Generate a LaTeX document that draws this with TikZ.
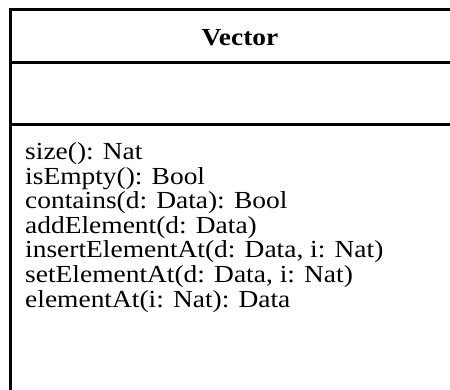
\documentclass[tikz,border=0pt]{standalone}
\usepackage{fontspec}
\setmainfont{Liberation Serif}
\usetikzlibrary{positioning}
\tikzset{
  frame/.style={draw=black, line width=2.6pt},
  sep/.style={draw=black, line width=2.6pt},
  classname/.style={font=\fontsize{24.5}{24.5}\selectfont\bfseries, inner sep=0pt, anchor=base, xscale=1.12},
  oper/.style={font=\fontsize{24.5}{24.5}\selectfont, inner sep=0pt, anchor=base west, xscale=1.12}
}
\begin{document}
\begin{tikzpicture}[x=1pt,y=1pt]
\clip (0,0) rectangle (450,-390);
% class box, it runs past the right and bottom edge
\coordinate (nw) at (10.3,-9.7);
\coordinate (se) at (470,-430);
\draw[frame] (nw) rectangle (se);
% compartment separators
\coordinate (attr) at (10.3,-62.3);
\coordinate (meth) at (10.3,-124.5);
\draw[sep] (attr) -- (attr -| se);
\draw[sep] (meth) -- (meth -| se);
% name
\node[classname] (name) at (240,-45.5) {Vector};
% operations
\foreach \op [count=\i] in {size(): Nat, isEmpty(): Bool, contains(d: Data): Bool,
  addElement(d: Data), {insertElementAt(d: Data, i: Nat)}, {setElementAt(d: Data, i: Nat)},
  elementAt(i: Nat): Data}
  \node[oper] (op\i) at (25,{-160-24.5*(\i-1)}) {\op};
\end{tikzpicture}
\end{document}
